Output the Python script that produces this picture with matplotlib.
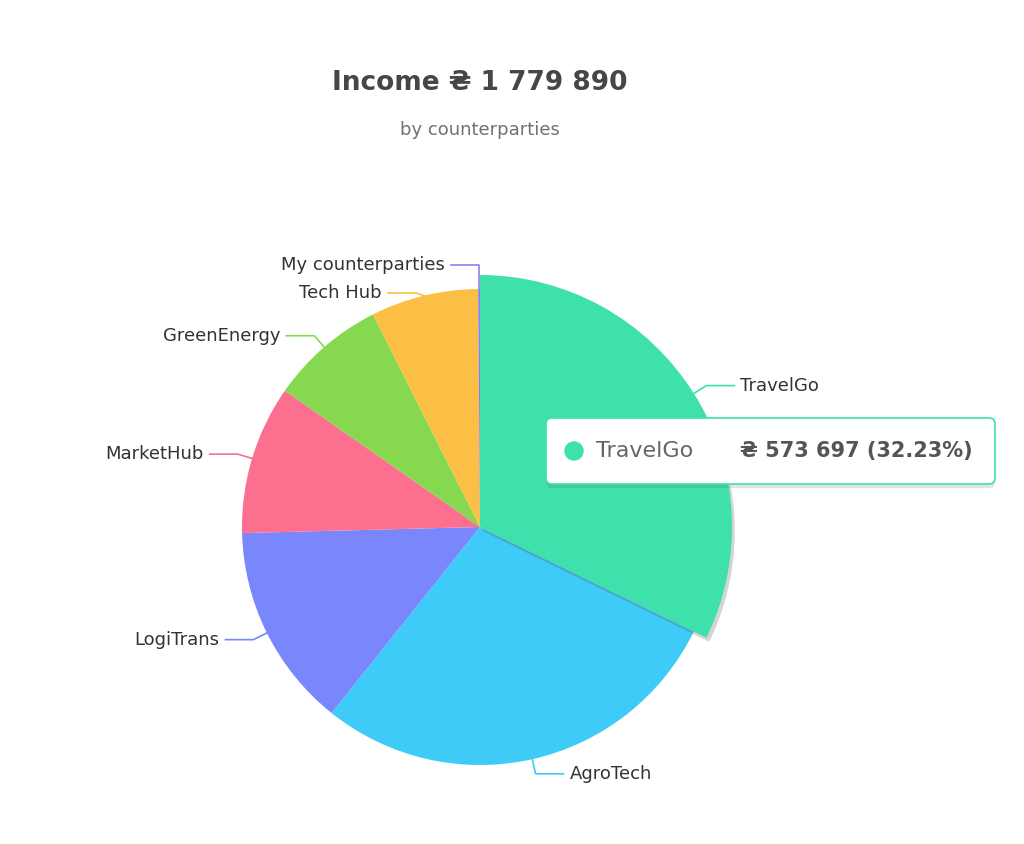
import numpy as np
import matplotlib.pyplot as plt
from matplotlib.patches import FancyBboxPatch, Circle
import matplotlib.patheffects as pe

names = ["TravelGo", "AgroTech", "LogiTrans", "MarketHub", "GreenEnergy", "Tech Hub", "My counterparties"]
values = [573697, 507000, 247000, 180000, 140000, 130000, 2193]
colors = ["#3ee0ac", "#3ecbf7", "#7a86fc", "#fc6f8e", "#86d94e", "#fbbf45", "#8b7ff0"]
total = 1779890

W, H = 1024, 844
fig = plt.figure(figsize=(W / 100, H / 100), dpi=100)
ax = fig.add_axes([0, 0, 1, 1])

cx, cy, r = 480, H - 527, 238
wedges, _ = ax.pie(values, colors=colors, startangle=90, counterclock=False,
                   center=(cx, cy), radius=r, frame=True,
                   wedgeprops=dict(linewidth=0))
ax.set_xlim(0, W)
ax.set_ylim(0, H)
ax.set_aspect("equal")
ax.axis("off")
wedges[0].set_radius(252)
wedges[0].set_path_effects([pe.SimplePatchShadow(offset=(2, -3), alpha=0.25, shadow_rgbFace="#555555"), pe.Normal()])
wedges[0].set_zorder(3)

# labels whose y is moved to avoid overlap (px from top)
label_y = {"Tech Hub": 293, "My counterparties": 265}
for w, name, col in zip(wedges, names, colors):
    mid = np.deg2rad((w.theta1 + w.theta2) / 2)
    rr = w.r
    x0, y0 = cx + rr * np.cos(mid), cy + rr * np.sin(mid)
    x1, y1 = cx + (rr + 15) * np.cos(mid), cy + (rr + 15) * np.sin(mid)
    if name in label_y:
        y1 = H - label_y[name]
        x1 = x0 - (8 if name == "Tech Hub" else 0)
    right = np.cos(mid) >= 0 and name not in label_y
    x2 = x1 + (28 if right else -28)
    ax.plot([x0, x1, x2], [y0, y1, y1], color=col, lw=1.2, zorder=4)
    ax.text(x2 + (6 if right else -6), y1, name, ha="left" if right else "right",
            va="center", fontsize=13, color="#333333", zorder=5)

ax.text(480, H - 83, "Income ₴ 1 779 890", ha="center", va="center",
        fontsize=19, fontweight="bold", color="#464646")
ax.text(480, H - 130, "by counterparties", ha="center", va="center",
        fontsize=13, color="#6e7079")

# tooltip
box = FancyBboxPatch((546, H - 484), 449, 66, boxstyle="round,pad=0,rounding_size=6",
                     facecolor="white", edgecolor="#3ee0ac", lw=1.2, zorder=6,
                     path_effects=[pe.SimplePatchShadow(offset=(0, -3), alpha=0.15), pe.Normal()])
ax.add_patch(box)
ax.add_patch(Circle((574, H - 451), 9, color=colors[0], zorder=7))
ax.text(596, H - 451, names[0], ha="left", va="center", fontsize=16, color="#666666", zorder=7)
ax.text(740, H - 451, f"₴ {values[0]:,} ({values[0] / total * 100:.2f}%)".replace(",", " "),
        ha="left", va="center", fontsize=15, fontweight="bold", color="#555555", zorder=7)

fig.savefig("out.png", dpi=100, facecolor="white")
